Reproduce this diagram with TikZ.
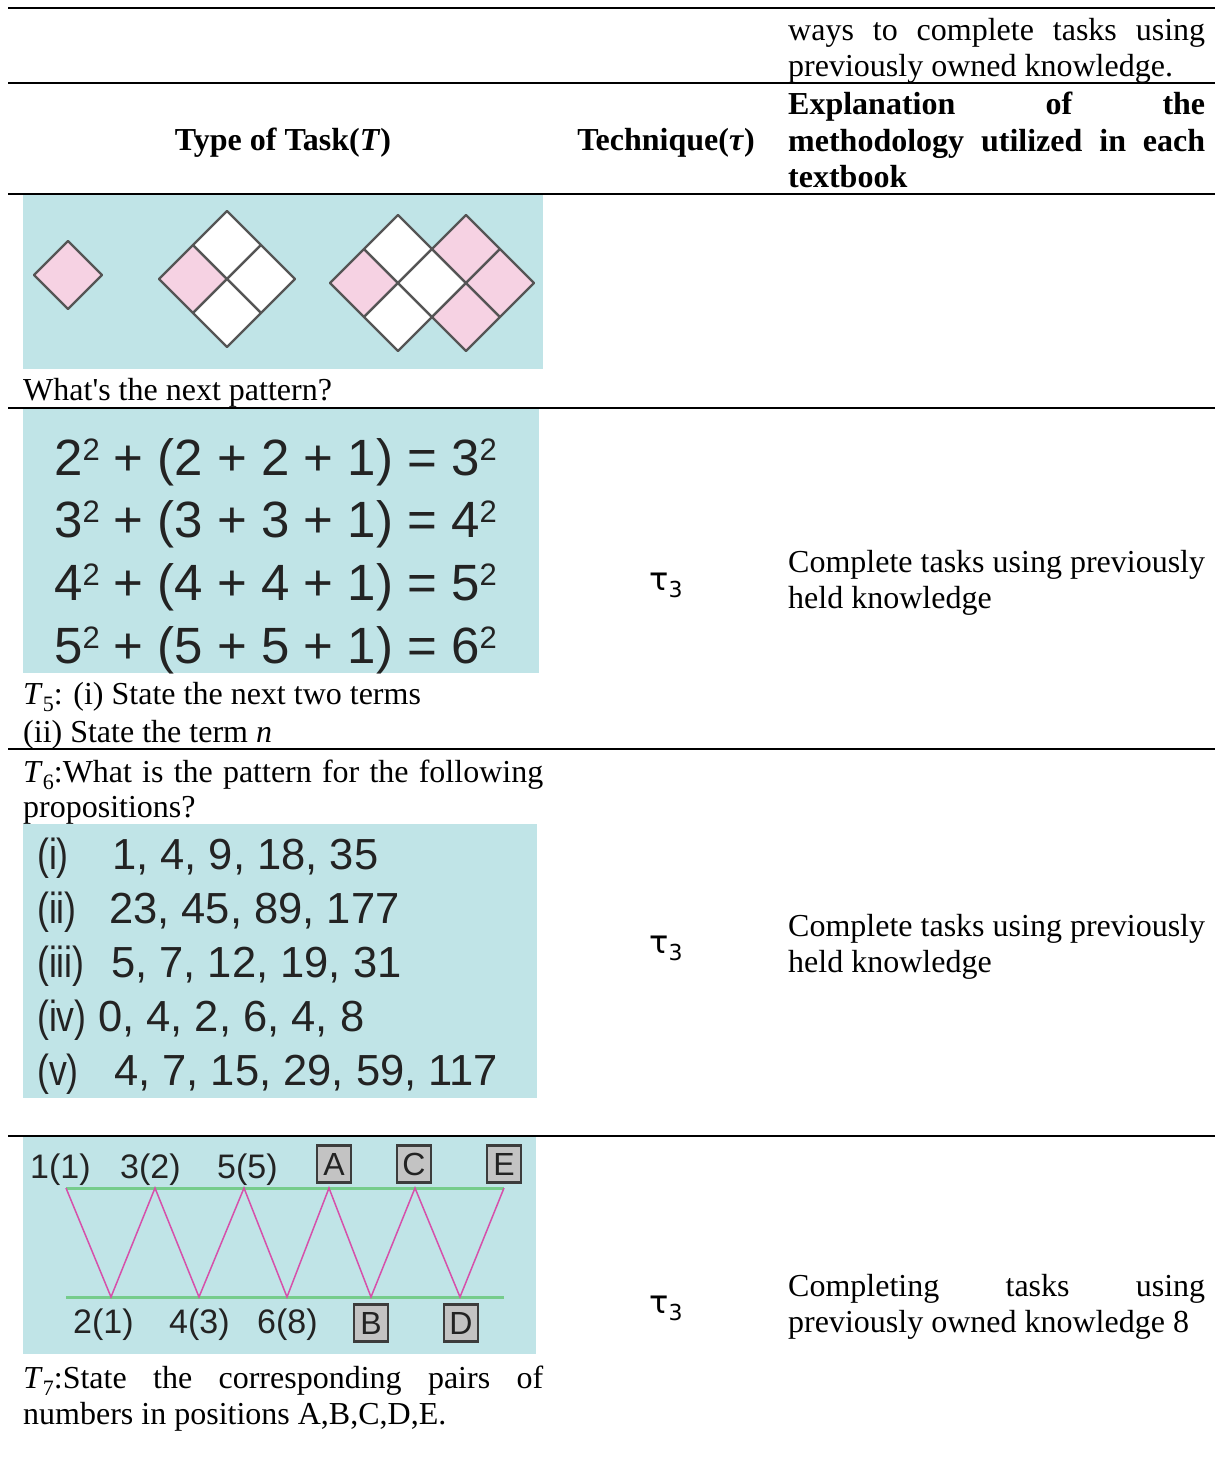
\documentclass[tikz,border=0pt]{standalone}
\usepackage{fontspec}
\setmainfont{Liberation Serif}
\newfontfamily\arialfont{Liberation Sans}
\newfontfamily\dejavu{DejaVu Sans}

\definecolor{picblue}{RGB}{192,228,231}
\definecolor{cellpink}{RGB}{246,210,227}
\definecolor{cellgrey}{RGB}{85,85,85}
\definecolor{zzpink}{RGB}{214,80,170}
\definecolor{zzgreen}{RGB}{118,204,140}
\definecolor{ink}{RGB}{35,35,35}
\definecolor{boxgrey}{RGB}{195,195,195}
\definecolor{boxdark}{RGB}{60,60,60}

\newcommand{\lowsub}[1]{\raisebox{-7pt}{\fontsize{22}{22}\selectfont #1}}
\newcommand{\tauthree}{{\dejavu τ\raisebox{-7pt}{\fontsize{22}{22}\selectfont 3}}}
\newcommand{\sqr}{\raisebox{15pt}{\fontsize{31}{31}\selectfont 2}}
\newcommand{\seqlab}[1]{\scalebox{0.82}[1]{#1}}

\tikzset{
    ln/.style={anchor=base west, inner sep=0pt},
    rule/.style={line width=2pt},
    cell/.style={draw=cellgrey, line width=2.2pt, line join=round},
    eqline/.style={anchor=base west, inner sep=0pt, text=ink, font=\arialfont\fontsize{51}{51}\selectfont},
    seqline/.style={anchor=base west, inner sep=0pt, text=ink, font=\arialfont\fontsize{43.5}{43.5}\selectfont},
    zzlabel/.style={anchor=base west, inner sep=0pt, text=ink, font=\arialfont\fontsize{34}{34}\selectfont},
    letterbox/.style={draw=boxdark, fill=boxgrey, line width=2.5pt, minimum width=34pt, minimum height=37pt, inner sep=0pt, text=ink, font=\arialfont\fontsize{32}{32}\selectfont},
    zz/.style={draw=zzpink, line width=1.5pt},
    zzrail/.style={draw=zzgreen, line width=3pt}
}

\begin{document}
\begin{tikzpicture}[x=1pt, y=-1pt, font=\fontsize{32}{36}\selectfont]
    \useasboundingbox (0,0) rectangle (1215,1461);

    % table rules
    \foreach \ry in {8,83,194,408,749,1136}
        \draw[rule] (8,\ry) -- (1215,\ry);

    % header
    \node[ln] (waysA) at (788,41) {\makebox[417pt][s]{ways to complete tasks using}};
    \node[ln] (waysB) at (788,77) {previously owned knowledge.};
    \node[anchor=base, inner sep=0pt] (typehd) at (283,150) {\textbf{Type of Task(\textit{T})}};
    \node[anchor=base, inner sep=0pt] (techhd) at (666,150) {\textbf{Technique(\textit{τ})}};
    \node[ln] (explA) at (788,115) {\makebox[417pt][s]{\textbf{Explanation of the}}};
    \node[ln] (explB) at (788,151) {\makebox[417pt][s]{\textbf{methodology utilized in each}}};
    \node[ln] (explC) at (788,187) {\textbf{textbook}};

    % pattern of diamonds
    \fill[picblue] (23,195) rectangle (543,369);
    \foreach \cx/\cy/\cf in {68/275/cellpink,
        193/279/cellpink, 227/245/white, 261/279/white, 227/313/white,
        364/283/cellpink, 398/249/white, 398/317/white, 432/283/white,
        466/249/cellpink, 466/317/cellpink, 500/283/cellpink}
        \draw[cell, fill=\cf] (\cx,\cy-34) -- (\cx+34,\cy) -- (\cx,\cy+34) -- (\cx-34,\cy) -- cycle;
    \node[ln] (nextpat) at (23,400) {What\textquotesingle s the next pattern?};

    % T5
    \fill[picblue] (23,409) rectangle (539,673);
    \node[eqline] (eqA) at (54,475) {2\sqr{} + (2 + 2 + 1) = 3\sqr};
    \node[eqline] (eqB) at (54,537) {3\sqr{} + (3 + 3 + 1) = 4\sqr};
    \node[eqline] (eqC) at (54,600) {4\sqr{} + (4 + 4 + 1) = 5\sqr};
    \node[eqline] (eqD) at (54,663) {5\sqr{} + (5 + 5 + 1) = 6\sqr};
    \node[ln] (tfiveA) at (23,704) {\textit{T}\lowsub{5}: (i) State the next two terms};
    \node[ln] (tfiveB) at (23,742) {(ii) State the term \textit{n}};
    \node[anchor=base, inner sep=0pt] (tauA) at (666,590) {\tauthree};
    \node[ln] (doneA) at (788,572) {Complete tasks using previously};
    \node[ln] (doneB) at (788,608) {held knowledge};

    % T6
    \node[ln] (tsixA) at (23,782) {\makebox[520pt][s]{\textit{T}\lowsub{6}:What is the pattern for the following}};
    \node[ln] (tsixB) at (23,817) {propositions?};
    \fill[picblue] (23,824) rectangle (537,1098);
    \foreach \lab/\nx/\sy/\nums in {(i)/112/869/{1, 4, 9, 18, 35},
        (ii)/109/923/{23, 45, 89, 177},
        (iii)/111/977/{5, 7, 12, 19, 31},
        (iv)/98/1031/{0, 4, 2, 6, 4, 8},
        (v)/114/1085/{4, 7, 15, 29, 59, 117}}
    {
        \node[seqline] at (37,\sy) {\seqlab{\lab}};
        \node[seqline] at (\nx,\sy) {\nums};
    }
    \node[anchor=base, inner sep=0pt] (tauB) at (666,953) {\tauthree};
    \node[ln] (doneC) at (788,936) {Complete tasks using previously};
    \node[ln] (doneD) at (788,972) {held knowledge};

    % T7
    \fill[picblue] (23,1137) rectangle (536,1354);
    \foreach \i/\tx in {1/66,2/155,3/244,4/329,5/415,6/504}
        \coordinate (top\i) at (\tx,1188);
    \foreach \i/\bx in {1/111,2/199,3/287,4/371,5/460}
        \coordinate (bot\i) at (\bx,1297);
    \coordinate (railTL) at (66,1188);
    \coordinate (railTR) at (504,1188);
    \coordinate (railBL) at (66,1297);
    \coordinate (railBR) at (504,1297);
    \draw[zzrail] (railTL) -- (railTR);
    \draw[zzrail] (railBL) -- (railBR);
    \draw[zz] (top1) -- (bot1) -- (top2) -- (bot2) -- (top3) -- (bot3) -- (top4) -- (bot4) -- (top5) -- (bot5) -- (top6);
    \node[zzlabel] (oneone) at (30,1178) {1(1)};
    \node[zzlabel] (threetwo) at (120,1178) {3(2)};
    \node[zzlabel] (fivefive) at (217,1178) {5(5)};
    \node[letterbox] (boxA) at (334,1164) {A};
    \node[letterbox] (boxC) at (414,1164) {C};
    \node[letterbox] (boxE) at (504,1164) {E};
    \node[zzlabel] (twoone) at (73,1333) {2(1)};
    \node[zzlabel] (fourthree) at (169,1333) {4(3)};
    \node[zzlabel] (sixeight) at (257,1333) {6(8)};
    \node[letterbox] (boxB) at (371,1323) {B};
    \node[letterbox] (boxD) at (461,1323) {D};
    \node[ln] (tsevenA) at (23,1388) {\makebox[520pt][s]{\textit{T}\lowsub{7}:State the corresponding pairs of}};
    \node[ln] (tsevenB) at (23,1424) {numbers in positions A,B,C,D,E.};
    \node[anchor=base, inner sep=0pt] (tauC) at (666,1313) {\tauthree};
    \node[ln] (doneE) at (788,1296) {\makebox[417pt][s]{Completing tasks using}};
    \node[ln] (doneF) at (788,1332) {previously owned knowledge 8};
\end{tikzpicture}
\end{document}
